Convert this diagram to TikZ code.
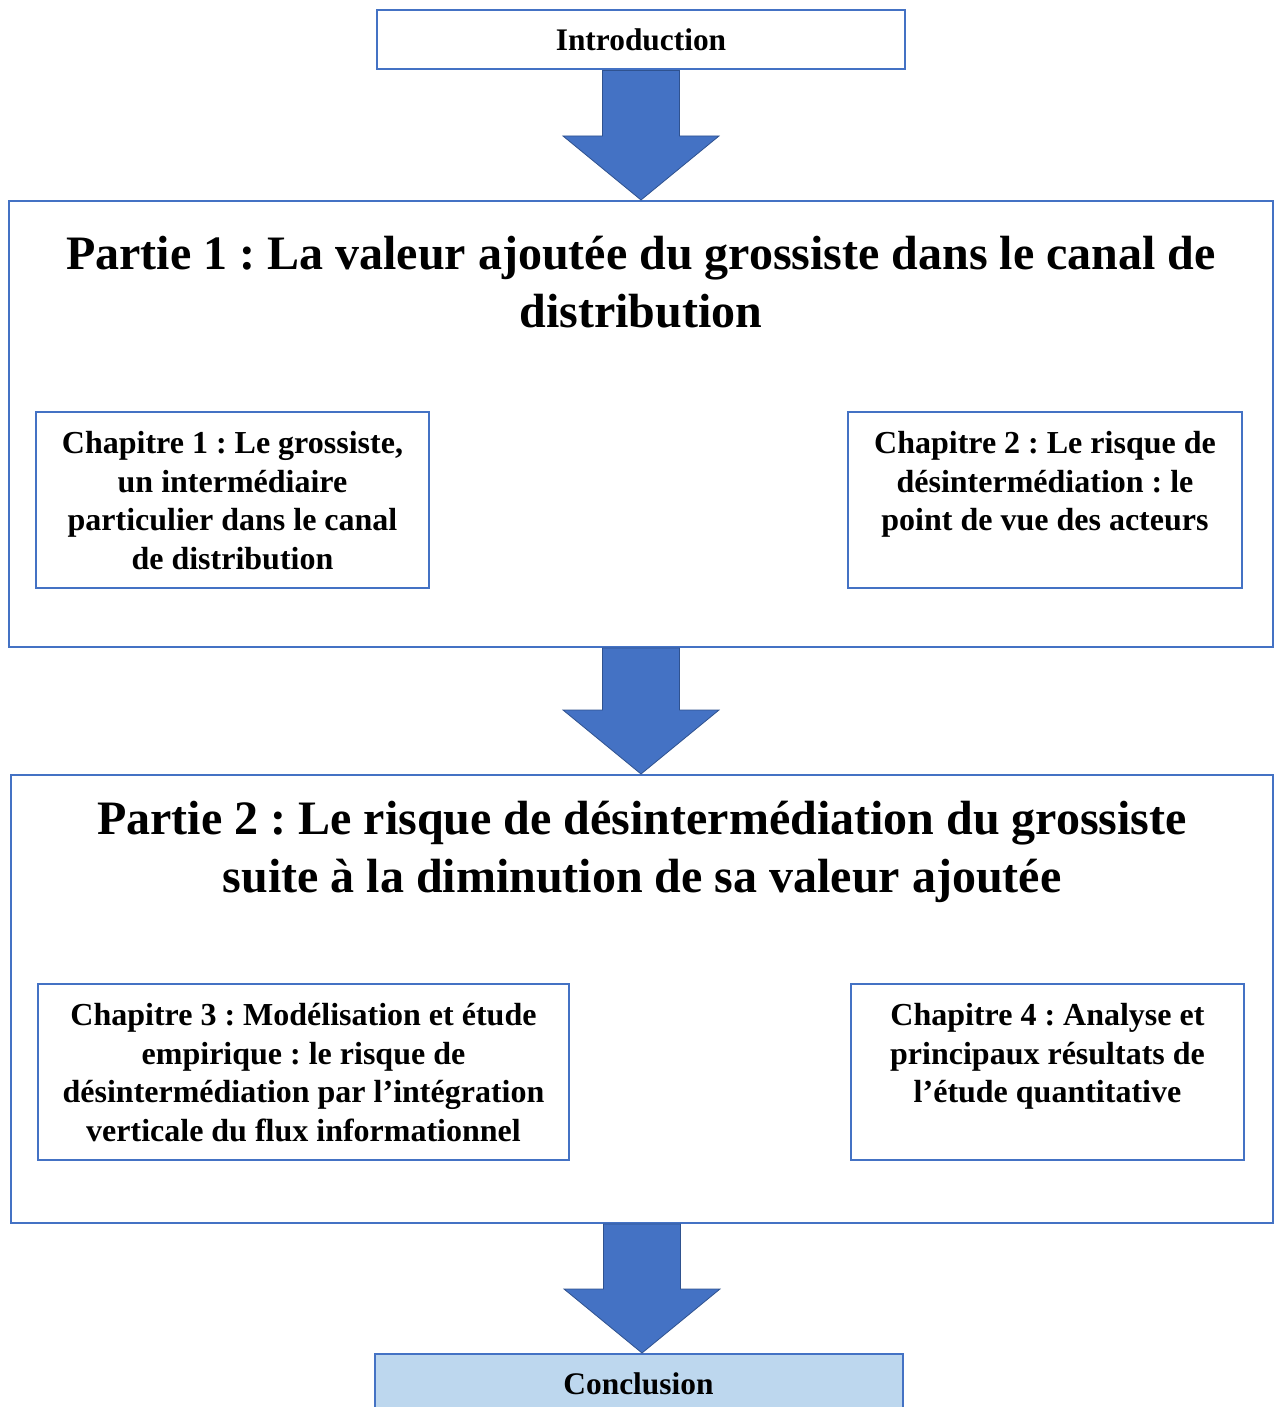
\documentclass[tikz,border=0pt]{standalone}
\usepackage{fontspec}
\setmainfont{Liberation Serif}
\usepackage{tikz}
\definecolor{boxblue}{HTML}{4472C4}
\definecolor{arrowedge}{HTML}{2F528F}
\definecolor{lightblue}{HTML}{BDD7EE}
\tikzstyle{endbox} = [rectangle, draw = boxblue, line width=1pt, minimum width=264pt, minimum height=29.5pt, inner sep=0pt, font=\fontsize{15.7}{19}\selectfont\bfseries]
\tikzstyle{partbox} = [rectangle, draw = boxblue, line width=1pt, inner sep=0pt]
\tikzstyle{parttitle} = [text width=620pt, inner sep=0pt, font=\fontsize{24}{29}\selectfont\bfseries, execute at begin node={\centering\spaceskip=0pt\xspaceskip=0pt\relax\strut}]
\tikzstyle{chapbox} = [rectangle, draw = boxblue, line width=1pt, minimum height=88pt, inner xsep=4pt, inner ysep=0pt, font=\fontsize{16}{19.25}\selectfont\bfseries]
\tikzstyle{bigarrow} = [fill=boxblue, draw=arrowedge, line width=0.4pt, line join=miter]
\newcommand{\chaptext}[2]{\parbox[t][73pt][t]{#1}{\centering\strut #2}}
\newcommand{\blockarrow}[2]{%
  \filldraw[bigarrow] ($(#1.south)+(-38.5,0)$) -- ($(#1.south |- #2.north)+(-38.5,-64)$)
    -- ($(#1.south |- #2.north)+(-78,-64)$) -- (#1.south |- #2.north)
    -- ($(#1.south |- #2.north)+(78,-64)$) -- ($(#1.south |- #2.north)+(38.5,-64)$)
    -- ($(#1.south)+(38.5,0)$) -- cycle;}
\usetikzlibrary{arrows, positioning, calc}

\begin{document}
\frenchspacing
\begin{tikzpicture}[x=0.5pt, y=-0.5pt]
      \useasboundingbox (0,0) rectangle (1274,1407);
      \clip (0,0) rectangle (1274,1407);

      \node[endbox] (intro) at (641,40) {Introduction};

      % first part
      \node[partbox, minimum width=632pt, minimum height=223pt] (part1) at (641,424) {};
      \node[parttitle, below=14.2pt of part1.north] (title1) {Partie 1 : La valeur ajoutée du grossiste dans le canal de\\ distribution};
      \node[chapbox, minimum width=196.5pt] (chap1) at (232.5,500) {\chaptext{182pt}{Chapitre 1 : Le grossiste,\\ un intermédiaire\\ particulier dans le canal\\ de distribution}};
      \node[chapbox, minimum width=197pt] (chap2) at (1045,500) {\chaptext{182pt}{Chapitre 2 : Le risque de\\ désintermédiation : le\\ point de vue des acteurs}};

      % second part
      \node[partbox, minimum width=631pt, minimum height=224pt] (part2) at (642,999) {};
      \node[parttitle, below=9.7pt of part2.north] (title2) {Partie 2 : Le risque de désintermédiation du grossiste\\ suite à la diminution de sa valeur ajoutée};
      \node[chapbox, minimum width=265.5pt] (chap3) at (303.5,1072) {\chaptext{252pt}{Chapitre 3 : Modélisation et étude\\ empirique : le risque de\\ désintermédiation par l’intégration\\ verticale du flux informationnel}};
      \node[chapbox, minimum width=196.5pt] (chap4) at (1047.5,1072) {\chaptext{182pt}{Chapitre 4 : Analyse et\\ principaux résultats de\\ l’étude quantitative}};

      \node[endbox, fill=lightblue, anchor=north] (concl) at (638.5,1353) {Conclusion};

      \blockarrow{intro}{part1}
      \blockarrow{part1}{part2}
      \blockarrow{part2}{concl}
    \end{tikzpicture}
\end{document}
